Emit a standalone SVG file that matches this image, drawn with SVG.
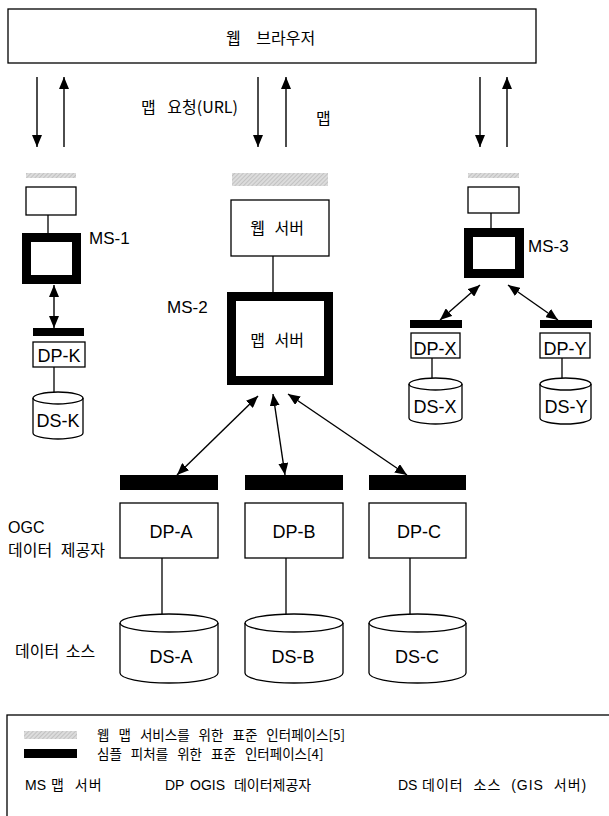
<svg xmlns="http://www.w3.org/2000/svg" width="609" height="816" viewBox="0 0 609 816">
<defs>
<pattern id="hatch" width="3" height="3" patternUnits="userSpaceOnUse" patternTransform="rotate(45)">
<rect width="3" height="3" fill="#dcdcdc"/>
<line x1="0" y1="0" x2="0" y2="3" stroke="#a8a8a8" stroke-width="1"/>
</pattern>
<marker id="ah" viewBox="0 0 12 10" refX="12" refY="5" markerWidth="12" markerHeight="10" markerUnits="userSpaceOnUse" orient="auto-start-reverse">
<path d="M0,0 L12,5 L0,10 z" fill="#000"/>
</marker>
</defs>
<style>
.box{fill:#fff;stroke:#000;stroke-width:1.3}
.thick{fill:#fff;stroke:#000;stroke-width:9}
.gbar{fill:url(#hatch)}
.bbar{fill:#000}
.ln{stroke:#000;stroke-width:1.3;fill:none}
.ar{stroke:#000;stroke-width:1.4;fill:none;marker-end:url(#ah)}
.bi{stroke:#000;stroke-width:1.4;fill:none;marker-start:url(#ah);marker-end:url(#ah)}
.cyl{fill:#fff;stroke:#000;stroke-width:1.3}
text{font-family:"Liberation Sans","Noto Sans CJK KR",sans-serif;fill:#000}
.ko{font-family:"Noto Sans CJK KR","Liberation Sans",sans-serif;font-size:16px}
.lab{font-size:17px}
.big{font-size:18px}
.mid{text-anchor:middle}
.leg{font-family:"Noto Sans CJK KR","Liberation Sans",sans-serif;font-size:13.5px;word-spacing:6px}
.lat{font-size:14px}
.leg3{font-size:14px;word-spacing:5px}
</style>
<rect width="609" height="816" fill="#fff"/>

<g id="browser">
<rect class="box" x="8" y="9" width="528" height="54"/>
<text class="ko" x="226" y="44" word-spacing="12">웹 브라우저</text>
</g>

<g id="labels-top">
<text class="ko" x="141" y="113" font-size="15" word-spacing="8">맵 요청(URL)</text>
<text class="ko" x="316" y="124" font-size="15">맵</text>
</g>

<g id="ms1">
<rect class="gbar" x="26" y="173" width="50" height="5"/>
<rect class="box" x="26" y="187" width="50" height="28"/>
<rect class="thick" x="26.5" y="237.5" width="50" height="42"/>
<text class="lab" x="89" y="244">MS-1</text>
</g>
<g id="dpk">
<rect class="bbar" x="33" y="328" width="51" height="8"/>
<rect class="box" x="33" y="342" width="52" height="25"/>
<text class="big mid" x="59" y="362">DP-K</text>
</g>
<g id="dsk">
<path class="cyl" d="M33,398 A25,6 0 0 1 83,398 L83,433 A25,6 0 0 1 33,433 Z"/>
<path class="ln" d="M33,398 A25,6 0 0 0 83,398"/>
<text class="big mid" x="58" y="427">DS-K</text>
</g>

<g id="ms2">
<rect class="gbar" x="232" y="173" width="96" height="13"/>
<rect class="box" x="231" y="200" width="98" height="56"/>
<text class="ko mid" x="277" y="234" word-spacing="6">웹 서버</text>
<rect class="thick" x="231.5" y="296.5" width="97" height="84"/>
<text class="ko mid" x="277" y="346" word-spacing="6">맵 서버</text>
<text class="lab" x="167" y="313">MS-2</text>
</g>

<g id="ms3">
<rect class="gbar" x="468" y="173" width="51" height="5"/>
<rect class="box" x="468" y="187" width="51" height="26"/>
<rect class="thick" x="468.5" y="232.5" width="51" height="41"/>
<text class="lab" x="528" y="252">MS-3</text>
</g>
<g id="dpx">
<rect class="bbar" x="410" y="320" width="52" height="8"/>
<rect class="box" x="411" y="333" width="49" height="25"/>
<text class="big mid" x="435" y="355">DP-X</text>
</g>
<g id="dpy">
<rect class="bbar" x="540" y="320" width="52" height="8"/>
<rect class="box" x="540" y="333" width="50" height="25"/>
<text class="big mid" x="565" y="355">DP-Y</text>
</g>
<g id="dsx">
<path class="cyl" d="M409,384 A26.5,6 0 0 1 462,384 L462,418 A26.5,6 0 0 1 409,418 Z"/>
<path class="ln" d="M409,384 A26.5,6 0 0 0 462,384"/>
<text class="big mid" x="435" y="413">DS-X</text>
</g>
<g id="dsy">
<path class="cyl" d="M540,384 A25.5,6 0 0 1 591,384 L591,418 A25.5,6 0 0 1 540,418 Z"/>
<path class="ln" d="M540,384 A25.5,6 0 0 0 591,384"/>
<text class="big mid" x="566" y="413">DS-Y</text>
</g>

<g id="dpa">
<rect class="bbar" x="120" y="475" width="98" height="15"/>
<rect class="box" x="120" y="503" width="98" height="55"/>
<text class="big mid" x="171" y="538">DP-A</text>
</g>
<g id="dpb">
<rect class="bbar" x="245" y="475" width="98" height="15"/>
<rect class="box" x="245" y="503" width="98" height="55"/>
<text class="big mid" x="294" y="538">DP-B</text>
</g>
<g id="dpc">
<rect class="bbar" x="369" y="475" width="97" height="15"/>
<rect class="box" x="369" y="503" width="97" height="55"/>
<text class="big mid" x="419" y="538">DP-C</text>
</g>

<g id="dsa">
<path class="cyl" d="M120,623 A49,9 0 0 1 218,623 L218,673 A49,10 0 0 1 120,673 Z"/>
<path class="ln" d="M120,623 A49,9 0 0 0 218,623"/>
<text class="big mid" x="171" y="663">DS-A</text>
</g>
<g id="dsb">
<path class="cyl" d="M245,623 A49,9 0 0 1 343,623 L343,673 A49,10 0 0 1 245,673 Z"/>
<path class="ln" d="M245,623 A49,9 0 0 0 343,623"/>
<text class="big mid" x="293" y="663">DS-B</text>
</g>
<g id="dsc">
<path class="cyl" d="M369,623 A48.5,9 0 0 1 466,623 L466,673 A48.5,10 0 0 1 369,673 Z"/>
<path class="ln" d="M369,623 A48.5,9 0 0 0 466,623"/>
<text class="big mid" x="417" y="663">DS-C</text>
</g>

<g id="side-labels">
<text x="8" y="533" font-size="16">OGC</text>
<text class="ko" x="8" y="556" word-spacing="5">데이터 제공자</text>
<text class="ko" x="15" y="657" word-spacing="3">데이터 소스</text>
</g>

<g id="connectors">
<line class="ar" x1="37" y1="77" x2="37" y2="147"/>
<line class="ar" x1="64" y1="147" x2="64" y2="77"/>
<line class="ar" x1="258" y1="77" x2="258" y2="147"/>
<line class="ar" x1="286" y1="147" x2="286" y2="77"/>
<line class="ar" x1="480" y1="77" x2="480" y2="147"/>
<line class="ar" x1="507" y1="147" x2="507" y2="77"/>
<line class="ln" x1="48" y1="215" x2="48" y2="233"/>
<line class="ln" x1="273" y1="256" x2="273" y2="292"/>
<line class="ln" x1="491" y1="213" x2="491" y2="228"/>
<line class="bi" x1="54" y1="285" x2="54" y2="328"/>
<line class="bi" x1="480" y1="285" x2="440" y2="320"/>
<line class="bi" x1="508" y1="285" x2="558" y2="320"/>
<line class="bi" x1="258" y1="396" x2="177" y2="475"/>
<line class="bi" x1="273" y1="394" x2="285" y2="475"/>
<line class="bi" x1="288" y1="394" x2="407" y2="475"/>
<line class="ln" x1="54" y1="367" x2="54" y2="392"/>
<line class="ln" x1="432" y1="358" x2="432" y2="378"/>
<line class="ln" x1="562" y1="358" x2="562" y2="378"/>
<line class="ln" x1="162" y1="558" x2="162" y2="614"/>
<line class="ln" x1="286" y1="558" x2="286" y2="614"/>
<line class="ln" x1="410" y1="558" x2="410" y2="614"/>
</g>

<g id="legend">
<rect class="box" x="7" y="715" width="620" height="120"/>
<rect class="gbar" x="24" y="731" width="53" height="8"/>
<rect class="bbar" x="24" y="749" width="53" height="9"/>
<text class="leg" x="97" y="740">웹 맵 서비스를 위한 표준 인터페이스[5]</text>
<text class="leg" x="97" y="759">심플 피처를 위한 표준 인터페이스[4]</text>
<text class="lat" x="25" y="790">MS</text>
<text class="leg3" x="51" y="790" word-spacing="10" letter-spacing="1">맵 서버</text>
<text class="lat" x="165" y="790">DP</text>
<text class="leg3" x="190" y="790" word-spacing="4">OGIS 데이터제공자</text>
<text class="lat" x="398" y="790">DS</text>
<text class="leg3" x="422" y="790" word-spacing="7" letter-spacing="1">데이터 소스 (GIS 서버)</text>
</g>
</svg>
